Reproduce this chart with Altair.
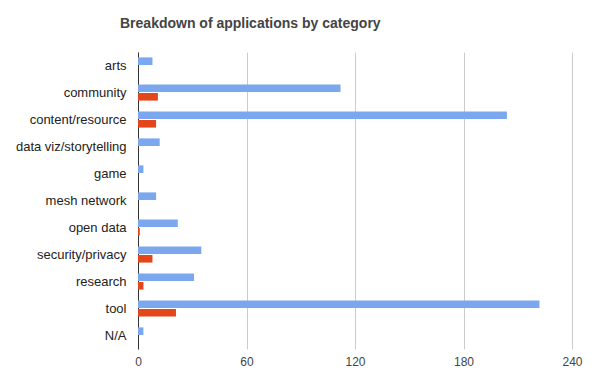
import altair as alt
import pandas as pd

categories = ["arts", "community", "content/resource", "data viz/storytelling", "game",
              "mesh network", "open data", "security/privacy", "research", "tool", "N/A"]
series_1 = [8, 112, 204, 12, 3, 10, 22, 35, 31, 222, 3]
series_2 = [0, 11, 10, 0, 0, 0, 1, 8, 3, 21, 0]
series_names = ["Series 1", "Series 2"]
x_ticks = [0, 60, 120, 180, 240]

rows = []
for c, a, b in zip(categories, series_1, series_2):
    rows.append({"category": c, "series": series_names[0], "value": a})
    rows.append({"category": c, "series": series_names[1], "value": b})
df = pd.DataFrame(rows)

FONT = "Liberation Sans, Arial, sans-serif"

chart = alt.Chart(df).mark_bar().encode(
    y=alt.Y("category:N", sort=categories, title=None,
            scale=alt.Scale(paddingInner=0.4, paddingOuter=0.2),
            axis=alt.Axis(labelFont=FONT, labelFontSize=13, labelColor="#222222",
                          labelPadding=12, ticks=False, domain=True,
                          domainColor="#333333", domainWidth=1, grid=False,
                          labelLimit=200)),
    yOffset=alt.YOffset("series:N", sort=series_names,
                        scale=alt.Scale(paddingInner=0.12)),
    x=alt.X("value:Q", title=None,
            scale=alt.Scale(domain=[0, 240], nice=False),
            axis=alt.Axis(values=x_ticks, labelFont=FONT, labelFontSize=12,
                          labelColor="#444444", ticks=False, domain=False,
                          grid=True, gridColor="#cccccc", gridWidth=1,
                          labelPadding=7, labelFlush=False)),
    color=alt.Color("series:N", sort=series_names,
                    scale=alt.Scale(domain=series_names, range=["#7BA7EE", "#E3461A"]),
                    legend=None),
).properties(
    width=434,
    height=297,
    autosize=alt.AutoSizeParams(type="none"),
    padding={"left": 130, "top": 44, "right": 20, "bottom": 28},
    title=alt.TitleParams("Breakdown of applications by category", anchor="start",
                          frame="group", dx=-18, offset=10, baseline="alphabetic",
                          font=FONT, fontSize=14, fontWeight="bold", color="#444444"),
).configure_view(stroke=None)

chart.save("out.html", embed_options={"renderer": "svg", "actions": False})
